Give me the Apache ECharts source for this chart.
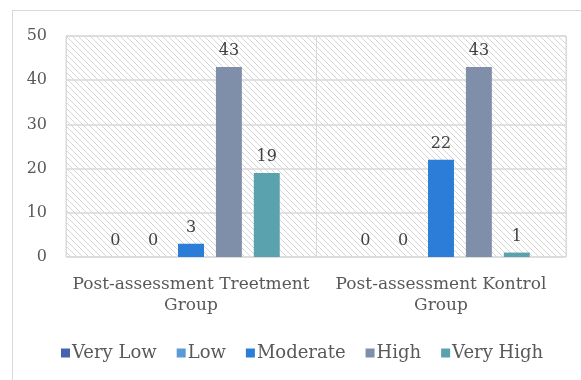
<!DOCTYPE html>
<html><head><meta charset="utf-8">
<script src="https://cdn.jsdelivr.net/npm/echarts@6/dist/echarts.min.js"></script>
<style>
html,body{margin:0;padding:0;background:#fff;}
#frame{position:absolute;left:12px;top:10px;width:600px;height:400px;border:1px solid #d9d9d9;box-sizing:border-box;}
#chart{position:absolute;left:0;top:0;width:581px;height:380px;}
</style></head>
<body>
<div id="frame"></div>
<div id="chart"></div>
<script>
var categories = ['Post-assessment Treetment\nGroup', 'Post-assessment Kontrol\nGroup'];
var seriesNames = ['Very Low', 'Low', 'Moderate', 'High', 'Very High'];
var veryLow = [0, 0];
var low = [0, 0];
var moderate = [3, 22];
var high = [43, 43];
var veryHigh = [19, 1];
var yTicks = [0, 10, 20, 30, 40, 50];

var colors = ['#4564ad', '#5b9bd5', '#2b7dd8', '#7f8ea9', '#5aa2ad'];
var FONT = 'DejaVu Serif';

var tile = document.createElement('canvas');
tile.width = 6; tile.height = 6;
var c = tile.getContext('2d');
c.fillStyle = '#ffffff'; c.fillRect(0,0,6,6);
c.strokeStyle = '#d6d6d6'; c.lineWidth = 1;
c.beginPath();
c.moveTo(-1,-1); c.lineTo(7,7);
c.moveTo(-7,-1); c.lineTo(1,7);
c.moveTo(5,-1); c.lineTo(13,7);
c.stroke();

var chart = echarts.init(document.getElementById('chart'), null, {renderer:'canvas'});
var values = [veryLow, low, moderate, high, veryHigh];
var series = seriesNames.map(function(n, i){
  return {
    name: n, type: 'bar', data: values[i],
    barGap: '46%', barCategoryGap: '29%',
    itemStyle: {color: colors[i]},
    label: {show: true, position: 'top', distance: 8, color: '#404040', fontFamily: FONT, fontSize: 16}
  };
});
chart.setOption({
  animation: false,
  textStyle: {fontFamily: FONT},
  grid: {left: 66, right: 15, top: 36, bottom: 123, show: true,
    backgroundColor: {image: tile, repeat: 'repeat'}, borderColor: '#d9d9d9', borderWidth: 1},
  legend: {
    data: seriesNames, bottom: 13, left: 56,
    itemWidth: 9, itemHeight: 9, itemGap: 20, icon: 'rect',
    textStyle: {color: '#595959', fontFamily: FONT, fontSize: 18, padding: [0,0,0,-3]}
  },
  xAxis: {
    type: 'category', data: categories,
    axisLine: {show: false}, axisTick: {show: false},
    splitLine: {show: true, lineStyle: {color: '#d9d9d9', width: 1}},
    axisLabel: {color: '#595959', fontFamily: FONT, fontSize: 17, lineHeight: 21, margin: 17, interval: 0}
  },
  yAxis: {
    type: 'value', min: yTicks[0], max: yTicks[yTicks.length-1], interval: 10,
    axisLine: {show: false}, axisTick: {show: false},
    splitLine: {lineStyle: {color: '#d9d9d9', width: 1.5}},
    axisLabel: {color: '#595959', fontFamily: FONT, fontSize: 16, margin: 19}
  },
  series: series
});
</script>
</body></html>
